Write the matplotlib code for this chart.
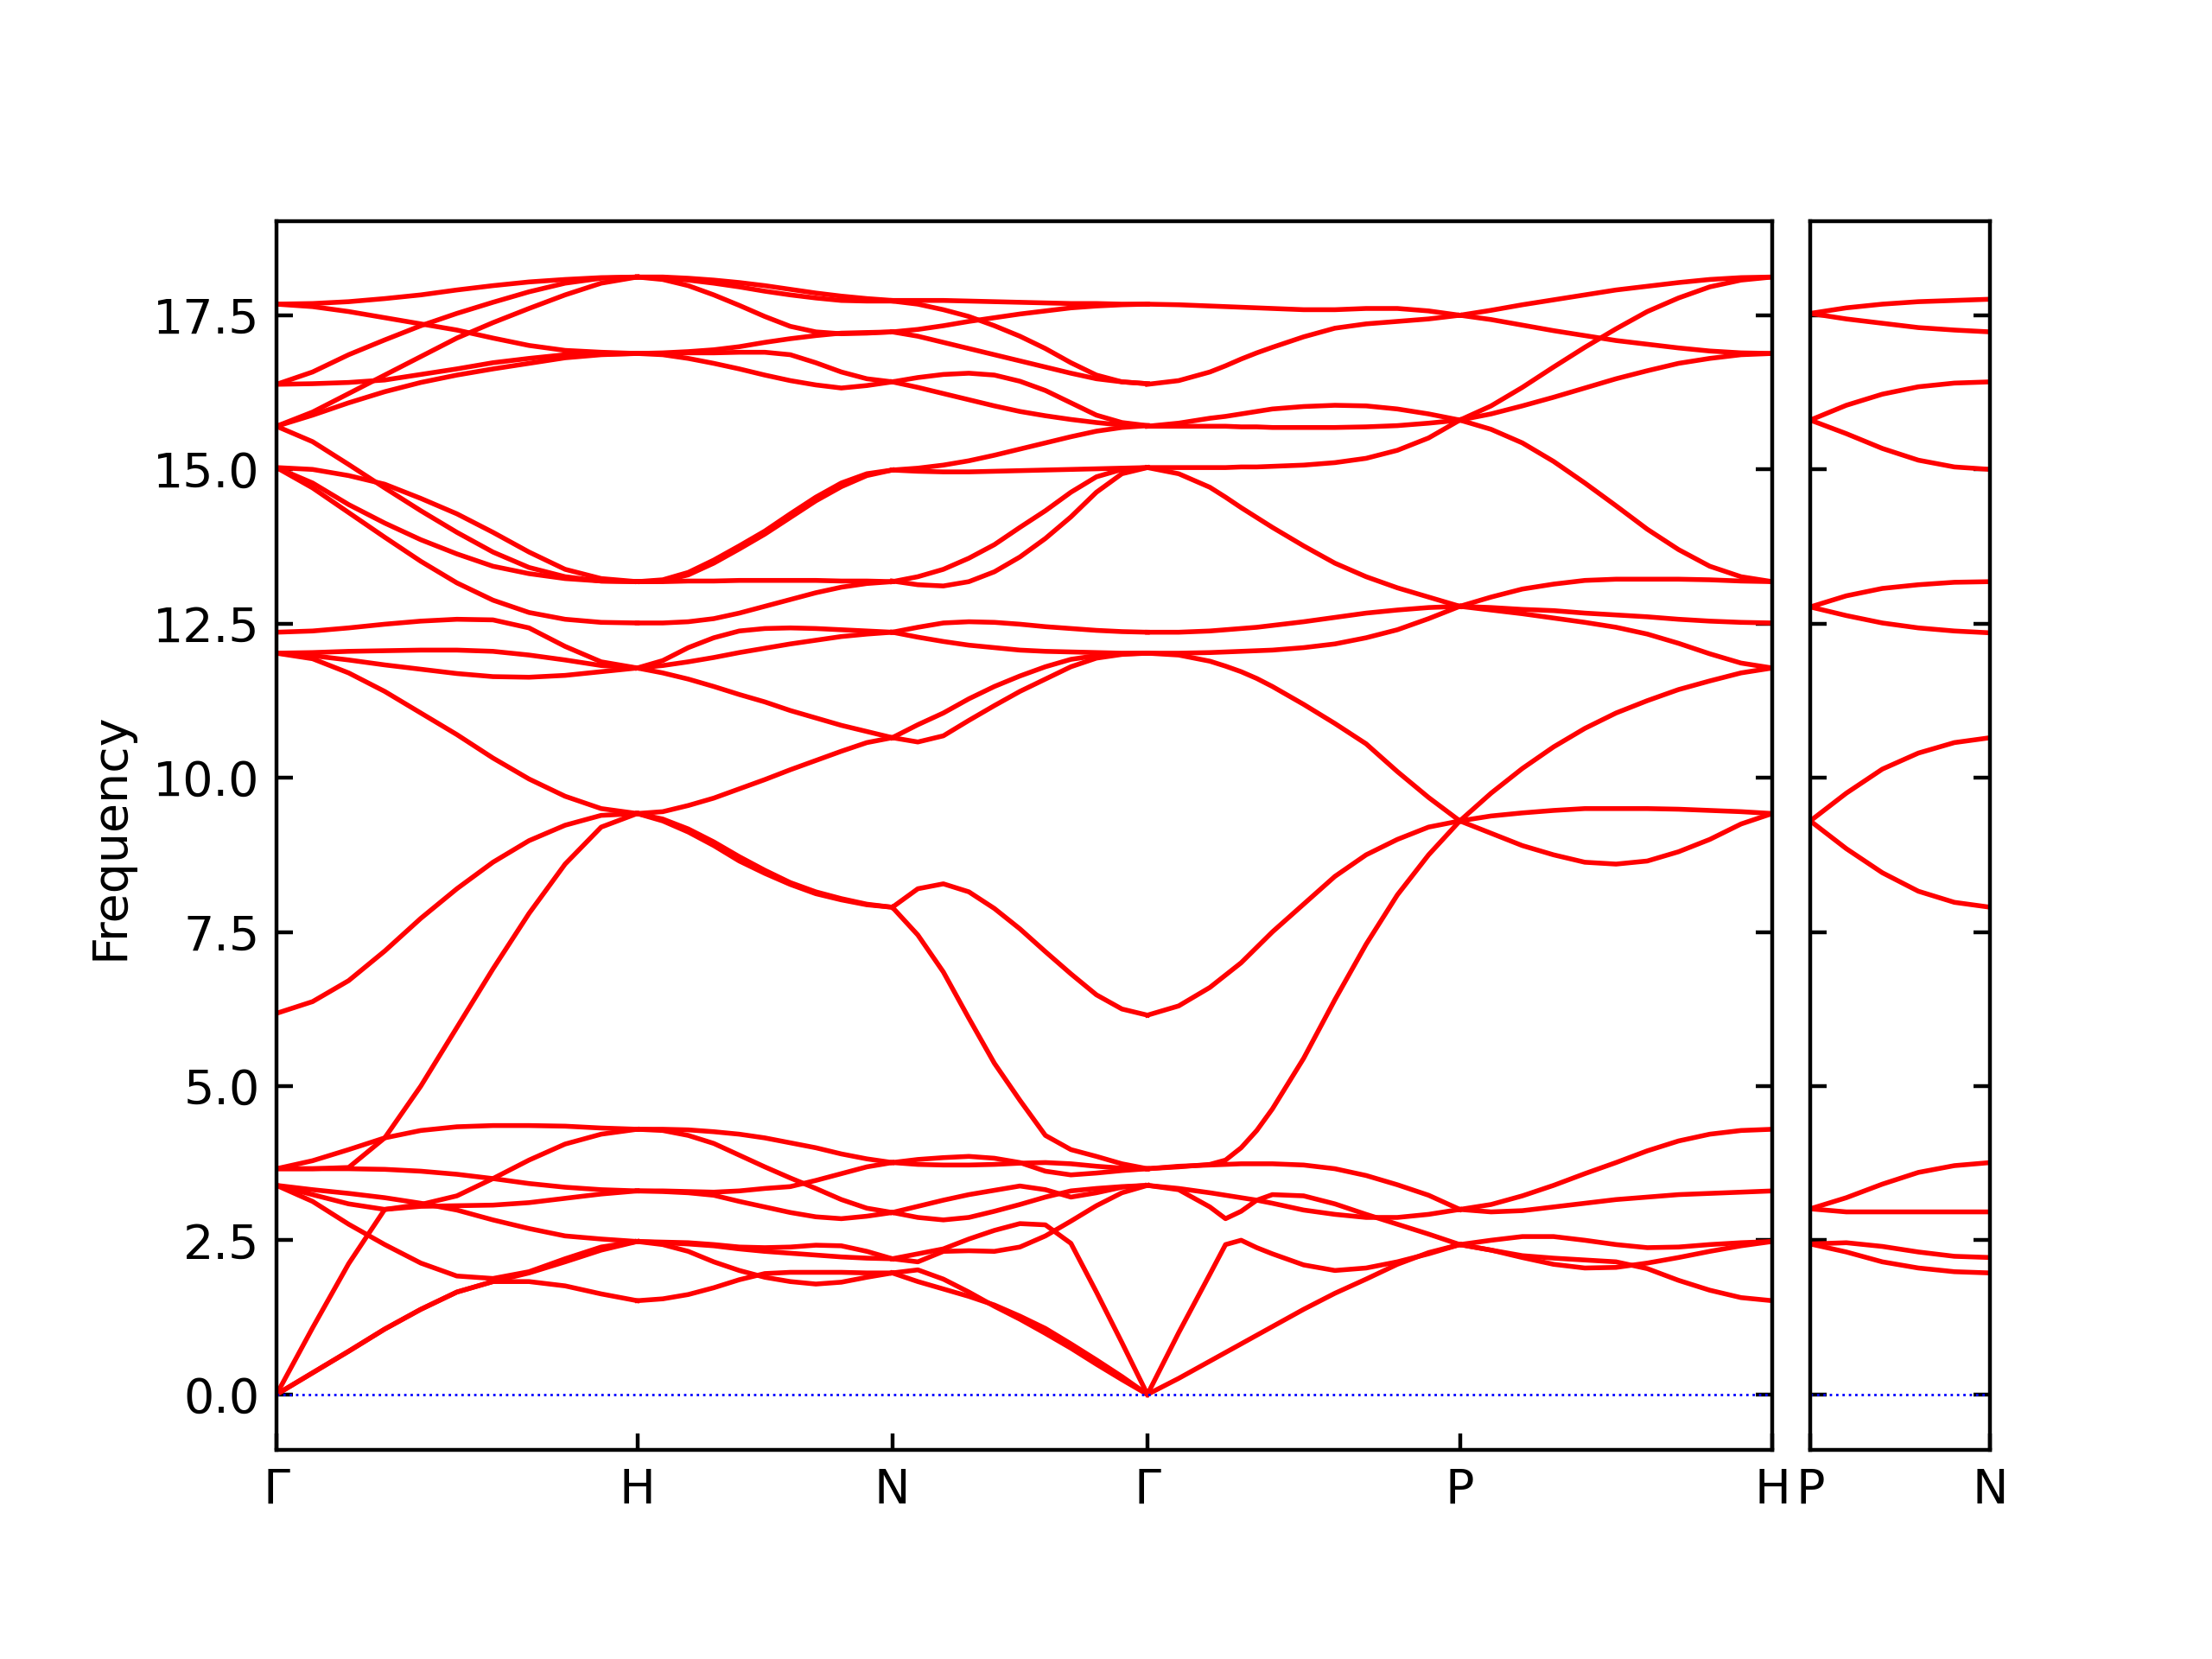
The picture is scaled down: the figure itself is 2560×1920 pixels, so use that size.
import matplotlib
matplotlib.use('Agg')
import matplotlib.pyplot as plt
import numpy as np

# --- path (bcc, 2pi/a units) ---
LABELS_MAIN = ['Γ', 'H', 'N', 'Γ', 'P', 'H']
LABELS_SUB = ['P', 'N']
SEG_LEN_MAIN = [1.0, 0.7071, 0.7071, 0.8660, 0.8660]
SEG_LEN_SUB = [0.5]

# q-point positions along each segment (fraction of segment)
Q11 = [0.0, 0.1, 0.2, 0.3, 0.4, 0.5, 0.6, 0.7, 0.8, 0.9, 1.0]
Q13 = [0.0, 0.1, 0.2, 0.25, 0.3, 0.35, 0.4, 0.5, 0.6, 0.7, 0.8, 0.9, 1.0]
Q6 = [0.0, 0.2, 0.4, 0.6, 0.8, 1.0]

# --- frequencies ---
# Gamma -> H
BANDS_G_H = [
    [0.00, 0.35, 0.70, 1.06, 1.38, 1.66, 1.83, 1.83, 1.76, 1.63, 1.52],
    [0.00, 0.35, 0.70, 1.06, 1.38, 1.66, 1.83, 1.97, 2.15, 2.34, 2.48],
    [3.39, 3.13, 2.76, 2.43, 2.13, 1.92, 1.88, 1.99, 2.20, 2.39, 2.48],
    [0.00, 1.08, 2.12, 3.00, 3.08, 3.22, 3.50, 3.80, 4.06, 4.22, 4.30],
    [3.39, 3.24, 3.09, 3.00, 3.05, 3.06, 3.07, 3.11, 3.18, 3.25, 3.30],
    [3.39, 3.32, 3.26, 3.19, 3.10, 2.99, 2.83, 2.69, 2.57, 2.52, 2.48],
    [3.66, 3.66, 3.66, 3.65, 3.62, 3.57, 3.50, 3.42, 3.36, 3.32, 3.30],
    [3.66, 3.79, 3.97, 4.16, 4.28, 4.34, 4.36, 4.36, 4.35, 4.32, 4.30],
    [3.66, 3.66, 3.68, 4.16, 5.00, 5.95, 6.90, 7.80, 8.60, 9.20, 9.42],
    [6.18, 6.37, 6.71, 7.19, 7.72, 8.20, 8.63, 8.98, 9.23, 9.39, 9.42],
    [12.02, 11.93, 11.70, 11.40, 11.05, 10.70, 10.32, 9.98, 9.70, 9.50, 9.42],
    [12.02, 11.98, 11.91, 11.83, 11.76, 11.69, 11.64, 11.63, 11.66, 11.72, 11.78],
    [12.02, 12.03, 12.05, 12.06, 12.07, 12.07, 12.05, 11.99, 11.91, 11.82, 11.78],
    [12.36, 12.38, 12.43, 12.49, 12.54, 12.57, 12.56, 12.43, 12.13, 11.88, 11.78],
    [15.03, 14.70, 14.30, 13.90, 13.51, 13.16, 12.88, 12.68, 12.57, 12.52, 12.51],
    [15.03, 14.78, 14.43, 14.13, 13.86, 13.63, 13.43, 13.31, 13.23, 13.19, 13.18],
    [15.03, 15.00, 14.90, 14.76, 14.53, 14.28, 13.98, 13.66, 13.38, 13.23, 13.18],
    [15.70, 15.45, 15.08, 14.70, 14.33, 13.98, 13.66, 13.41, 13.26, 13.19, 13.18],
    [15.70, 15.88, 16.08, 16.26, 16.41, 16.53, 16.63, 16.72, 16.81, 16.86, 16.88],
    [15.70, 15.93, 16.23, 16.53, 16.83, 17.13, 17.38, 17.61, 17.83, 18.02, 18.12],
    [16.38, 16.39, 16.41, 16.45, 16.54, 16.63, 16.73, 16.80, 16.86, 16.87, 16.88],
    [16.38, 16.58, 16.86, 17.10, 17.33, 17.53, 17.71, 17.88, 18.02, 18.10, 18.12],
    [17.68, 17.64, 17.56, 17.46, 17.36, 17.26, 17.13, 17.01, 16.93, 16.90, 16.88],
    [17.68, 17.69, 17.72, 17.77, 17.83, 17.91, 17.98, 18.04, 18.08, 18.11, 18.12],
]

# H -> N
BANDS_H_N = [
    [4.30, 4.30, 4.29, 4.26, 4.22, 4.16, 4.08, 4.00, 3.90, 3.82, 3.76],
    [4.30, 4.28, 4.20, 4.07, 3.88, 3.69, 3.51, 3.34, 3.16, 3.02, 2.95],
    [3.30, 3.30, 3.29, 3.28, 3.30, 3.34, 3.37, 3.47, 3.58, 3.69, 3.76],
    [3.30, 3.29, 3.27, 3.23, 3.13, 3.04, 2.95, 2.88, 2.85, 2.89, 2.95],
    [2.48, 2.47, 2.46, 2.43, 2.39, 2.38, 2.39, 2.42, 2.41, 2.32, 2.20],
    [2.48, 2.46, 2.44, 2.41, 2.36, 2.32, 2.29, 2.26, 2.23, 2.21, 2.20],
    [2.48, 2.43, 2.32, 2.15, 2.01, 1.90, 1.83, 1.79, 1.82, 1.90, 1.97],
    [1.52, 1.55, 1.62, 1.73, 1.86, 1.96, 1.98, 1.98, 1.98, 1.97, 1.97],
    [9.42, 9.30, 9.12, 8.90, 8.65, 8.45, 8.27, 8.12, 8.02, 7.94, 7.90],
    [9.42, 9.33, 9.17, 8.96, 8.72, 8.50, 8.30, 8.15, 8.04, 7.95, 7.90],
    [9.42, 9.45, 9.55, 9.67, 9.82, 9.97, 10.13, 10.28, 10.43, 10.57, 10.65],
    [11.78, 11.70, 11.60, 11.48, 11.35, 11.23, 11.09, 10.97, 10.85, 10.75, 10.65],
    [11.78, 11.82, 11.88, 11.95, 12.03, 12.10, 12.17, 12.23, 12.29, 12.33, 12.36],
    [11.78, 11.90, 12.11, 12.27, 12.38, 12.42, 12.43, 12.42, 12.40, 12.38, 12.36],
    [12.51, 12.51, 12.53, 12.58, 12.67, 12.78, 12.89, 13.00, 13.09, 13.15, 13.18],
    [13.18, 13.18, 13.19, 13.19, 13.20, 13.20, 13.20, 13.20, 13.19, 13.19, 13.18],
    [13.18, 13.21, 13.33, 13.53, 13.76, 14.00, 14.28, 14.55, 14.78, 14.93, 14.99],
    [13.18, 13.19, 13.29, 13.48, 13.71, 13.95, 14.22, 14.49, 14.72, 14.90, 14.99],
    [16.88, 16.86, 16.80, 16.72, 16.63, 16.53, 16.44, 16.37, 16.32, 16.36, 16.42],
    [16.88, 16.88, 16.89, 16.89, 16.90, 16.90, 16.86, 16.73, 16.58, 16.47, 16.42],
    [16.88, 16.89, 16.91, 16.94, 16.99, 17.06, 17.12, 17.17, 17.21, 17.22, 17.23],
    [18.12, 18.08, 17.98, 17.83, 17.66, 17.48, 17.32, 17.23, 17.20, 17.21, 17.23],
    [18.12, 18.10, 18.07, 18.02, 17.96, 17.89, 17.83, 17.78, 17.74, 17.73, 17.73],
    [18.12, 18.12, 18.10, 18.07, 18.03, 17.98, 17.92, 17.86, 17.81, 17.77, 17.74],
]

# N -> Gamma
BANDS_N_G = [
    [1.97, 1.83, 1.71, 1.59, 1.45, 1.27, 1.07, 0.82, 0.56, 0.29, 0.00],
    [1.97, 2.02, 1.87, 1.66, 1.43, 1.22, 0.99, 0.75, 0.49, 0.24, 0.00],
    [2.20, 2.28, 2.36, 2.52, 2.66, 2.77, 2.75, 2.45, 1.66, 0.84, 0.00],
    [2.20, 2.15, 2.32, 2.33, 2.32, 2.39, 2.57, 2.81, 3.06, 3.27, 3.39],
    [2.95, 2.87, 2.83, 2.87, 2.97, 3.08, 3.20, 3.30, 3.34, 3.37, 3.39],
    [2.95, 3.05, 3.15, 3.24, 3.31, 3.38, 3.32, 3.20, 3.27, 3.36, 3.39],
    [3.76, 3.73, 3.72, 3.72, 3.73, 3.75, 3.76, 3.74, 3.70, 3.67, 3.66],
    [3.76, 3.81, 3.84, 3.86, 3.83, 3.76, 3.62, 3.56, 3.59, 3.63, 3.66],
    [7.90, 7.45, 6.85, 6.10, 5.37, 4.77, 4.20, 3.97, 3.86, 3.74, 3.66],
    [7.90, 8.20, 8.28, 8.15, 7.88, 7.55, 7.18, 6.82, 6.48, 6.25, 6.15],
    [10.65, 10.86, 11.05, 11.28, 11.48, 11.65, 11.80, 11.92, 11.98, 12.01, 12.02],
    [10.65, 10.58, 10.68, 10.93, 11.17, 11.40, 11.60, 11.80, 11.94, 12.00, 12.02],
    [12.36, 12.28, 12.21, 12.15, 12.11, 12.07, 12.05, 12.04, 12.03, 12.02, 12.02],
    [12.36, 12.44, 12.51, 12.53, 12.52, 12.49, 12.45, 12.42, 12.39, 12.37, 12.36],
    [13.19, 13.13, 13.11, 13.18, 13.34, 13.58, 13.88, 14.23, 14.63, 14.93, 15.03],
    [13.18, 13.26, 13.38, 13.56, 13.78, 14.06, 14.33, 14.63, 14.88, 15.00, 15.03],
    [14.99, 14.97, 14.96, 14.96, 14.97, 14.98, 14.99, 15.00, 15.01, 15.02, 15.03],
    [14.99, 15.02, 15.07, 15.14, 15.23, 15.33, 15.43, 15.53, 15.62, 15.68, 15.71],
    [16.42, 16.33, 16.23, 16.13, 16.03, 15.94, 15.87, 15.81, 15.76, 15.72, 15.71],
    [16.42, 16.49, 16.54, 16.56, 16.53, 16.43, 16.28, 16.08, 15.88, 15.76, 15.71],
    [17.23, 17.16, 17.06, 16.96, 16.86, 16.76, 16.66, 16.56, 16.47, 16.42, 16.39],
    [17.23, 17.27, 17.33, 17.40, 17.46, 17.52, 17.57, 17.62, 17.65, 17.67, 17.68],
    [17.73, 17.68, 17.59, 17.48, 17.33, 17.16, 16.96, 16.73, 16.53, 16.42, 16.39],
    [17.74, 17.74, 17.74, 17.73, 17.72, 17.71, 17.70, 17.69, 17.69, 17.68, 17.68],
]

# Gamma -> P (13 q-points)
BANDS_G_P = [
    [0.00, 0.26, 0.54, 0.68, 0.82, 0.96, 1.10, 1.38, 1.64, 1.87, 2.11, 2.30, 2.43],
    [0.00, 1.00, 1.95, 2.43, 2.50, 2.38, 2.28, 2.10, 2.01, 2.05, 2.15, 2.28, 2.43],
    [3.39, 3.32, 3.04, 2.85, 2.97, 3.15, 3.24, 3.22, 3.09, 2.92, 2.76, 2.60, 2.43],
    [3.39, 3.34, 3.27, 3.23, 3.19, 3.15, 3.10, 2.99, 2.92, 2.87, 2.87, 2.92, 3.00],
    [3.66, 3.70, 3.72, 3.73, 3.74, 3.74, 3.74, 3.72, 3.66, 3.55, 3.40, 3.23, 3.00],
    [3.66, 3.69, 3.73, 3.80, 4.00, 4.28, 4.63, 5.45, 6.40, 7.30, 8.10, 8.75, 9.30],
    [6.15, 6.30, 6.60, 6.80, 7.00, 7.25, 7.50, 7.95, 8.40, 8.75, 9.00, 9.20, 9.30],
    [12.02, 11.99, 11.89, 11.81, 11.72, 11.61, 11.48, 11.19, 10.88, 10.55, 10.10, 9.68, 9.30],
    [12.02, 12.02, 12.03, 12.04, 12.05, 12.06, 12.07, 12.11, 12.17, 12.27, 12.40, 12.58, 12.78],
    [12.36, 12.36, 12.38, 12.40, 12.42, 12.44, 12.47, 12.53, 12.60, 12.67, 12.72, 12.76, 12.78],
    [15.03, 14.93, 14.71, 14.55, 14.38, 14.22, 14.06, 13.76, 13.48, 13.26, 13.08, 12.93, 12.78],
    [15.03, 15.03, 15.03, 15.03, 15.04, 15.04, 15.05, 15.07, 15.11, 15.18, 15.31, 15.51, 15.80],
    [15.70, 15.70, 15.70, 15.70, 15.69, 15.69, 15.68, 15.68, 15.68, 15.69, 15.71, 15.75, 15.80],
    [15.70, 15.75, 15.83, 15.86, 15.90, 15.94, 15.98, 16.02, 16.04, 16.03, 15.98, 15.90, 15.80],
    [16.38, 16.44, 16.58, 16.68, 16.79, 16.89, 16.98, 17.15, 17.29, 17.36, 17.40, 17.44, 17.50],
    [17.68, 17.67, 17.65, 17.64, 17.63, 17.62, 17.61, 17.59, 17.59, 17.61, 17.61, 17.57, 17.50],
]

# P -> H
BANDS_P_H = [
    [2.43, 2.34, 2.25, 2.21, 2.18, 2.15, 2.04, 1.85, 1.69, 1.57, 1.52],
    [2.43, 2.34, 2.22, 2.11, 2.05, 2.06, 2.13, 2.22, 2.32, 2.41, 2.48],
    [2.43, 2.50, 2.56, 2.56, 2.50, 2.43, 2.38, 2.39, 2.43, 2.46, 2.48],
    [3.00, 2.96, 2.98, 3.04, 3.10, 3.16, 3.20, 3.24, 3.26, 3.28, 3.30],
    [3.00, 3.08, 3.22, 3.39, 3.58, 3.76, 3.95, 4.11, 4.22, 4.28, 4.30],
    [9.30, 9.10, 8.90, 8.75, 8.63, 8.60, 8.65, 8.80, 9.00, 9.25, 9.42],
    [9.30, 9.38, 9.43, 9.47, 9.50, 9.50, 9.50, 9.49, 9.47, 9.45, 9.42],
    [9.30, 9.75, 10.15, 10.50, 10.80, 11.05, 11.25, 11.43, 11.57, 11.70, 11.78],
    [12.78, 12.72, 12.66, 12.59, 12.52, 12.44, 12.33, 12.18, 12.01, 11.86, 11.78],
    [12.78, 12.76, 12.73, 12.71, 12.67, 12.64, 12.61, 12.57, 12.54, 12.52, 12.51],
    [12.78, 12.93, 13.06, 13.14, 13.20, 13.22, 13.22, 13.22, 13.21, 13.19, 13.18],
    [15.80, 15.65, 15.43, 15.13, 14.78, 14.41, 14.03, 13.70, 13.43, 13.26, 13.18],
    [15.80, 15.90, 16.03, 16.17, 16.32, 16.47, 16.60, 16.72, 16.80, 16.86, 16.88],
    [15.80, 16.03, 16.33, 16.66, 16.98, 17.28, 17.56, 17.78, 17.96, 18.07, 18.12],
    [17.50, 17.43, 17.34, 17.25, 17.17, 17.09, 17.03, 16.97, 16.92, 16.89, 16.88],
    [17.50, 17.58, 17.67, 17.75, 17.83, 17.91, 17.97, 18.03, 18.08, 18.11, 18.12],
]

# P -> N (second panel)
BANDS_P_N = [
    [2.44, 2.31, 2.15, 2.05, 1.99, 1.97],
    [2.44, 2.46, 2.40, 2.31, 2.24, 2.22],
    [3.01, 2.96, 2.96, 2.96, 2.96, 2.96],
    [3.01, 3.19, 3.41, 3.60, 3.71, 3.76],
    [9.30, 8.85, 8.46, 8.16, 7.98, 7.90],
    [9.30, 9.75, 10.14, 10.40, 10.57, 10.65],
    [12.77, 12.63, 12.51, 12.43, 12.38, 12.35],
    [12.77, 12.95, 13.07, 13.13, 13.17, 13.18],
    [15.80, 15.58, 15.34, 15.15, 15.04, 15.00],
    [15.80, 16.04, 16.22, 16.34, 16.40, 16.42],
    [17.53, 17.44, 17.37, 17.30, 17.26, 17.23],
    [17.53, 17.62, 17.68, 17.72, 17.74, 17.76],
]

MAIN_SEGMENTS = [
    (Q11, BANDS_G_H),
    (Q11, BANDS_H_N),
    (Q11, BANDS_N_G),
    (Q13, BANDS_G_P),
    (Q11, BANDS_P_H),
]


def draw_segment(ax, start, length, frac, bands):
    x = start + length * np.asarray(frac)
    for freqs in bands:
        ax.plot(x, freqs, color='r', linewidth=1.0)


def style_axis(ax, ticks, labels):
    ax.set_xlim(ticks[0], ticks[-1])
    ax.set_xticks(ticks)
    ax.set_xticklabels(labels)
    ax.axhline(0, color='b', linestyle=':', linewidth=0.5)
    ax.tick_params(direction='in', left=True, right=True, top=False)


fig = plt.figure(figsize=(6.4, 4.8), dpi=400)
ax1 = fig.add_axes([0.125, 0.1258, 0.6762, 0.7409])
ax2 = fig.add_axes([0.8184, 0.1258, 0.0814, 0.7409], sharey=ax1)

ticks_main = np.concatenate([[0.0], np.cumsum(SEG_LEN_MAIN)])
for i, (frac, bands) in enumerate(MAIN_SEGMENTS):
    draw_segment(ax1, ticks_main[i], SEG_LEN_MAIN[i], frac, bands)

ticks_sub = ticks_main[-1] + np.concatenate([[0.0], np.cumsum(SEG_LEN_SUB)])
draw_segment(ax2, ticks_sub[0], SEG_LEN_SUB[0], Q6, BANDS_P_N)

style_axis(ax1, ticks_main, LABELS_MAIN)
style_axis(ax2, ticks_sub, LABELS_SUB)
ax2.tick_params(labelleft=False)
ax1.set_ylabel('Frequency')

fig.savefig('out.png', dpi=400)
